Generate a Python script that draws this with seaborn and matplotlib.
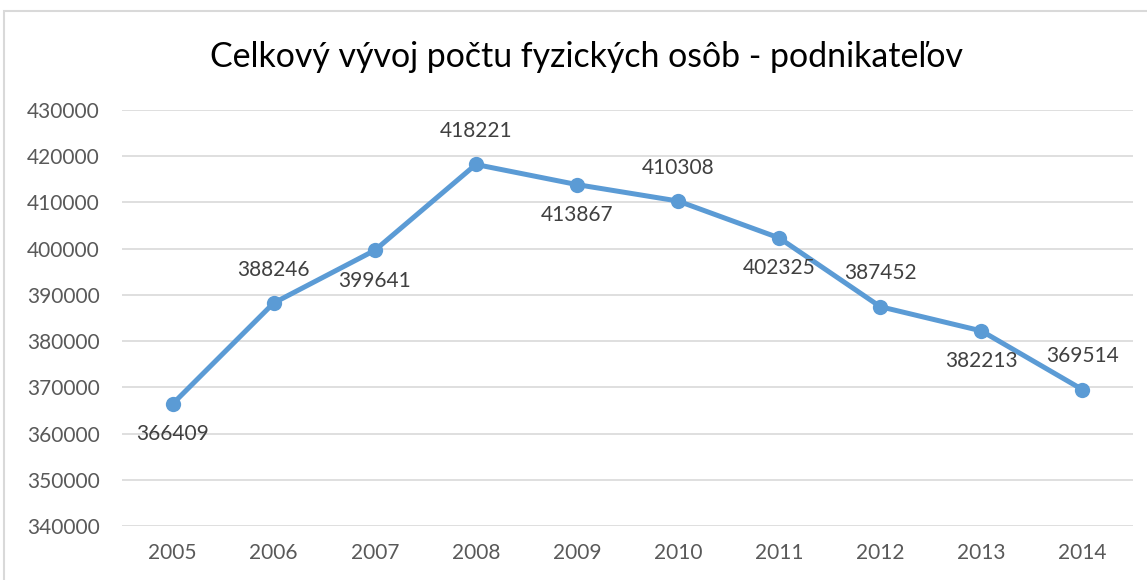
import pandas as pd
import seaborn as sns
import matplotlib.pyplot as plt
from matplotlib.patches import Rectangle

years = ['2005', '2006', '2007', '2008', '2009', '2010', '2011', '2012', '2013', '2014']
counts = [366409, 388246, 399641, 418221, 413867, 410308, 402325, 387452, 382213, 369514]
title = 'Celkový vývoj počtu fyzických osôb - podnikateľov'

data = pd.DataFrame({'Rok': years, 'Počet': counts})

sns.set_style('white')
plt.rcParams['font.family'] = ['Lato', 'DejaVu Sans']

fig = plt.figure(figsize=(11.47, 5.8), dpi=100)
ax = fig.add_axes([0.1064, 0.0931, 0.8814, 0.7172])

# ramček grafu
fig.patches.append(Rectangle((4 / 1147, -0.1), 1.2, 1 - 11 / 580 + 0.1,
                             transform=fig.transFigure, fill=False,
                             edgecolor='#D9D9D9', linewidth=1.5))

sns.lineplot(x='Rok', y='Počet', data=data, ax=ax, color='#5B9BD5',
             linewidth=3.6, marker='o', markersize=11, markeredgewidth=0)

# popisky hodnôt striedavo pod a nad bodom
for i, (yr, val) in enumerate(zip(years, counts)):
    dy = -22 if i % 2 == 0 else 24
    ax.annotate(str(val), (i, val), xytext=(0, dy), textcoords='offset points',
                ha='center', va='center', fontsize=15, color='#404040')

ax.set_xlim(-0.5, 9.5)
ax.set_ylim(340000, 430000)
ax.set_yticks(range(340000, 430001, 10000))
ax.yaxis.grid(True, color='#D9D9D9', linewidth=1.2)
ax.set_axisbelow(True)
for s in ax.spines.values():
    s.set_visible(False)
ax.tick_params(axis='y', length=0, pad=16, labelsize=15, labelcolor='#595959')
ax.tick_params(axis='x', length=0, pad=12, labelsize=15, labelcolor='#595959')
ax.set_xlabel('')
ax.set_ylabel('')
fig.text(586 / 1147, 1 - 57 / 580, title, ha='center', va='center', fontsize=24.4, color='#000000')

fig.savefig('out.png', dpi=100)
